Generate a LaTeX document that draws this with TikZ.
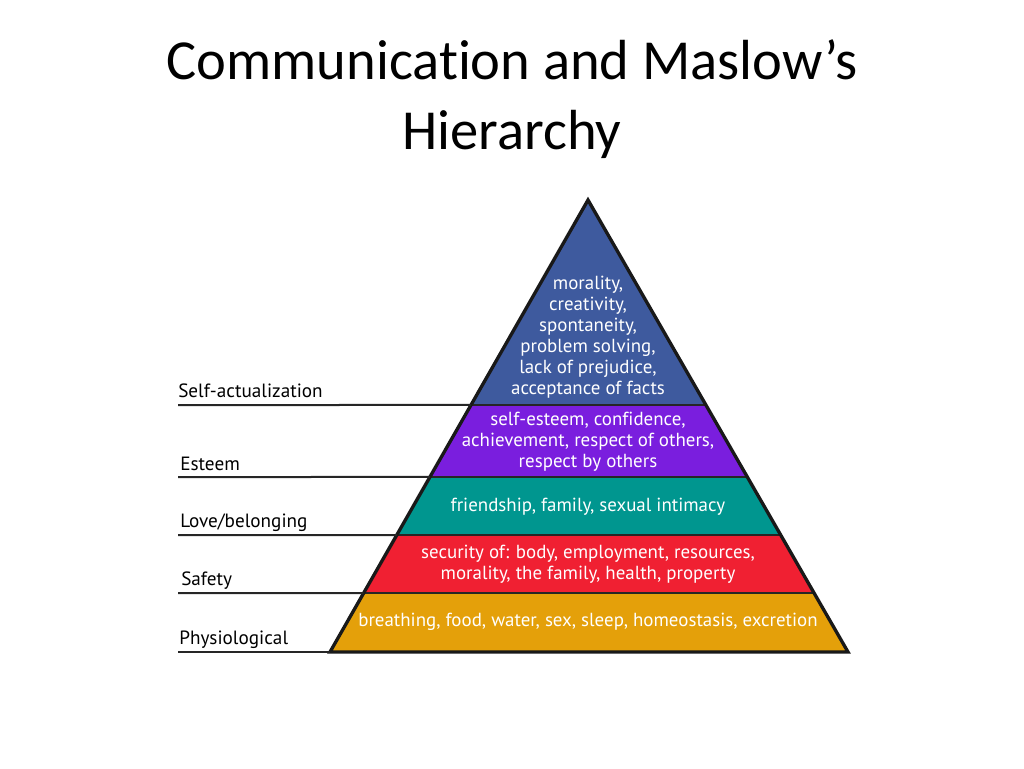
\documentclass[tikz,border=0pt]{standalone}
\usepackage{fontspec}
\setmainfont{Carlito}[Ligatures=NoCommon]
\newfontfamily\dinfont{PT Sans}[Ligatures=NoCommon]
\usetikzlibrary{calc}
\definecolor{selfblue}{RGB}{62,90,158}
\definecolor{esteemviolet}{RGB}{122,30,222}
\definecolor{loveteal}{RGB}{0,150,143}
\definecolor{safetyred}{RGB}{240,32,50}
\definecolor{physioorange}{RGB}{228,160,10}

\begin{document}
\begin{tikzpicture}[x=0.75pt,y=-0.75pt,
titlenode/.style={font=\fontsize{42.4}{52}\selectfont, align=center},
bandtext/.style={text=white, align=center, font=\dinfont\fontsize{14.2}{15.75}\selectfont},
levellabel/.style={anchor=base west, inner xsep=0pt, font=\dinfont\fontsize{14.4}{16}\selectfont},
levelline/.style={draw=black!85, line width=1.5pt},
sepline/.style={draw=black!85, line width=2pt},
outline/.style={draw=black!90, line width=2.5pt, line join=miter}
]
\useasboundingbox (0,0) rectangle (1024,768);
%Title
\node[titlenode] (title) at (512,99) {Communication and Maslow’s\\Hierarchy};
%Corners
\coordinate (apex) at (588,200);
\coordinate (bl) at (330,652);
\coordinate (br) at (848,652);
\foreach \lvl/\t in {1/0.4535,2/0.6128,3/0.7412,4/0.8695}{
  \coordinate (L\lvl) at ($(apex)!\t!(bl)$);
  \coordinate (R\lvl) at ($(apex)!\t!(br)$);
}
%Bands
\fill[selfblue] (apex) -- (R1) -- (L1) -- cycle;
\fill[esteemviolet] (L1) -- (R1) -- (R2) -- (L2) -- cycle;
\fill[loveteal] (L2) -- (R2) -- (R3) -- (L3) -- cycle;
\fill[safetyred] (L3) -- (R3) -- (R4) -- (L4) -- cycle;
\fill[physioorange] (L4) -- (R4) -- (br) -- (bl) -- cycle;
\draw[sepline] (L1) -- (R1);
\draw[sepline] (L2) -- (R2);
\draw[sepline] (L3) -- (R3);
\draw[sepline] (L4) -- (R4);
\draw[outline] (apex) -- (br) -- (bl) -- cycle;
%Band texts
\node[bandtext] (selftext) at (588,337) {morality,\\creativity,\\spontaneity,\\problem solving,\\lack of prejudice,\\acceptance of facts};
\node[bandtext] (esteemtext) at (588,442) {self-esteem, confidence,\\achievement, respect of others,\\respect by others};
\node[bandtext] (lovetext) at (588,507) {friendship, family, sexual intimacy};
\node[bandtext] (safetytext) at (588,564) {security of: body, employment, resources,\\morality, the family, health, property};
\node[bandtext] (physiotext) at (588,622) {breathing, food, water, sex, sleep, homeostasis, excretion};
%Level labels
\node[levellabel] (selflabel) at (178,397) {Self-actualization};
\node[levellabel] (esteemlabel) at (180,470) {Esteem};
\node[levellabel] (lovelabel) at (180,527) {Love/belonging};
\node[levellabel] (safetylabel) at (181,585) {Safety};
\node[levellabel] (physiolabel) at (179,644) {Physiological};
%Lines
\coordinate (s1) at (178,405);
\coordinate (s2) at (178,477);
\coordinate (s3) at (178,535);
\coordinate (s4) at (178,593);
\coordinate (s5) at (178,652);
\draw[levelline] (s1) -- (L1);
\draw[levelline] (s2) -- (L2);
\draw[levelline] (s3) -- (L3);
\draw[levelline] (s4) -- (L4);
\draw[levelline] (s5) -- (bl);
\end{tikzpicture}
\end{document}
